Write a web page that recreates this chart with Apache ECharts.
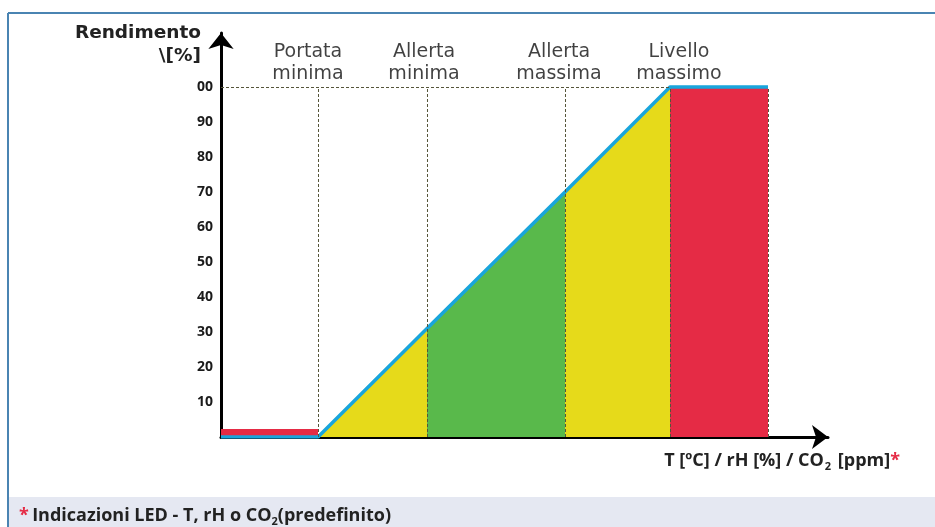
<!DOCTYPE html>
<html>
<head>
<meta charset="utf-8">
<script src="https://cdn.jsdelivr.net/npm/echarts@6/dist/echarts.min.js"></script>
<style>
  html, body { margin: 0; padding: 0; background: #fff; }
  #chart { width: 935px; height: 527px; }
</style>
</head>
<body>
<div id="chart"></div>
<script>
// threshold positions along the x axis (arbitrary units) and the output level at each
const zoneEdges = [0, 97, 206, 344, 449, 547]
const curveLevels = [0, 0, 31, 70, 100, 100]
const lowBarLevel = 2.3
const zoneNames = ['Portata\nminima', 'Allerta\nminima', 'Allerta\nmassima', 'Livello\nmassimo']
const yTicks = [10, 20, 30, 40, 50, 60, 70, 80, 90, 100]
const xAxisMax = 607
const yAxisMax = 115.43

// colours / layout nudges (not data)
const RED = '#e52b45'
const YELLOW = '#e6da1a'
const GREEN = '#59b94b'
const BLUE = '#19a5dc'
const zoneLabelNudge = [-10, -3, -6, 9]
const zoneFill = [null, YELLOW, GREEN, YELLOW, RED]

const chart = echarts.init(document.getElementById('chart'))

const areaSeries = []
// small red bar at the start
areaSeries.push({
  type: 'line',
  data: [[zoneEdges[0], lowBarLevel], [zoneEdges[1], lowBarLevel]],
  symbol: 'none',
  lineStyle: { width: 0 },
  areaStyle: { color: RED, opacity: 1 },
  z: 2,
  silent: true
})
for (let i = 1; i < zoneEdges.length - 1; i++) {
  areaSeries.push({
    type: 'line',
    data: [[zoneEdges[i], curveLevels[i]], [zoneEdges[i + 1], curveLevels[i + 1]]],
    symbol: 'none',
    lineStyle: { width: 0 },
    areaStyle: { color: zoneFill[i], opacity: 1 },
    z: 2,
    silent: true
  })
}

const guideLines = zoneEdges.slice(1).map(x => [{ coord: [x, 0] }, { coord: [x, 100] }])
guideLines.push([{ coord: [0, 100] }, { coord: [zoneEdges[4], 100] }])

const boldTxt = { fontFamily: 'Open Sans', fontWeight: 'bold', fontSize: 18, fill: '#222', lineHeight: 22 }

const option = {
  animation: false,
  grid: { left: 221, right: 935 - 828, top: 33, bottom: 90 },
  xAxis: {
    type: 'value',
    min: 0,
    max: xAxisMax,
    axisLine: {
      show: true,
      lineStyle: { color: '#000', width: 3 },
      symbol: ['none', 'arrow'],
      symbolSize: [18, 16]
    },
    axisTick: { show: false },
    axisLabel: { show: false },
    splitLine: { show: false }
  },
  yAxis: {
    type: 'value',
    min: 0,
    max: yAxisMax,
    interval: 10,
    axisLine: {
      show: true,
      lineStyle: { color: '#000', width: 3 },
      symbol: ['none', 'arrow'],
      symbolSize: [19, 16]
    },
    axisTick: { show: false },
    splitLine: { show: false },
    axisLabel: {
      margin: 8,
      color: '#1a1a1a',
      fontFamily: 'Open Sans',
      fontWeight: 'bold',
      fontSize: 14,
      formatter: v => (yTicks.includes(v) ? (v === 100 ? '00' : String(v)) : '')
    }
  },
  series: [
    ...areaSeries,
    {
      type: 'line',
      data: [],
      silent: true,
      markLine: {
        silent: true,
        symbol: 'none',
        label: { show: false },
        lineStyle: { color: '#55553a', width: 1, type: [3, 2] },
        data: guideLines
      },
      z: 3
    },
    {
      type: 'line',
      data: zoneEdges.map((x, i) => [x, curveLevels[i]]),
      symbol: 'none',
      lineStyle: { color: BLUE, width: 3.5 },
      z: 4,
      silent: true
    },
    {
      type: 'scatter',
      symbolSize: 0,
      silent: true,
      data: zoneNames.map((n, i) => ({
        value: [zoneEdges[i + 1], 100],
        name: n,
        label: { offset: [zoneLabelNudge[i], 0] }
      })),
      label: {
        show: true,
        position: 'top',
        distance: 2,
        formatter: p => p.name,
        color: '#111',
        fontFamily: 'DejaVu Sans',
        fontSize: 19,
        lineHeight: 22
      }
    }
  ],
  graphic: [
    { type: 'line', shape: { x1: 8, y1: 13, x2: 935, y2: 13 }, style: { stroke: '#4a84b2', lineWidth: 2 } },
    { type: 'line', shape: { x1: 8, y1: 13, x2: 8, y2: 527 }, style: { stroke: '#4a84b2', lineWidth: 2 } },
    { type: 'rect', shape: { x: 9, y: 497, width: 926, height: 30 }, style: { fill: '#e5e8f2' } },
    {
      type: 'text', x: 201, y: 22,
      style: {
        text: 'Rendimento\n\\[%]', align: 'right',
        fontFamily: 'DejaVu Sans', fontWeight: 'bold', fontSize: 18.5, lineHeight: 23, fill: '#222'
      }
    },
    {
      type: 'text', x: 900, y: 450,
      style: {
        align: 'right',
        text: '{a|T [ºC] / rH [%] / CO}{s|2}{a| [ppm]}{r|*}',
        rich: {
          a: boldTxt,
          s: { fontFamily: 'Open Sans', fontWeight: 'bold', fontSize: 11, fill: '#222', verticalAlign: 'bottom', padding: [0, 2, 0, 1] },
          r: { fontFamily: 'Open Sans', fontWeight: 'bold', fontSize: 18, fill: RED }
        }
      }
    },
    {
      type: 'text', x: 19, y: 505,
      style: {
        text: '{r|*} {a|Indicazioni LED - T, rH o CO}{s|2}{a|(predefinito)}',
        rich: {
          a: boldTxt,
          s: { fontFamily: 'Open Sans', fontWeight: 'bold', fontSize: 11, fill: '#222', verticalAlign: 'bottom' },
          r: { fontFamily: 'Open Sans', fontWeight: 'bold', fontSize: 18, fill: RED }
        }
      }
    }
  ]
}

chart.setOption(option)
window.addEventListener('resize', () => chart.resize())
</script>
</body>
</html>
